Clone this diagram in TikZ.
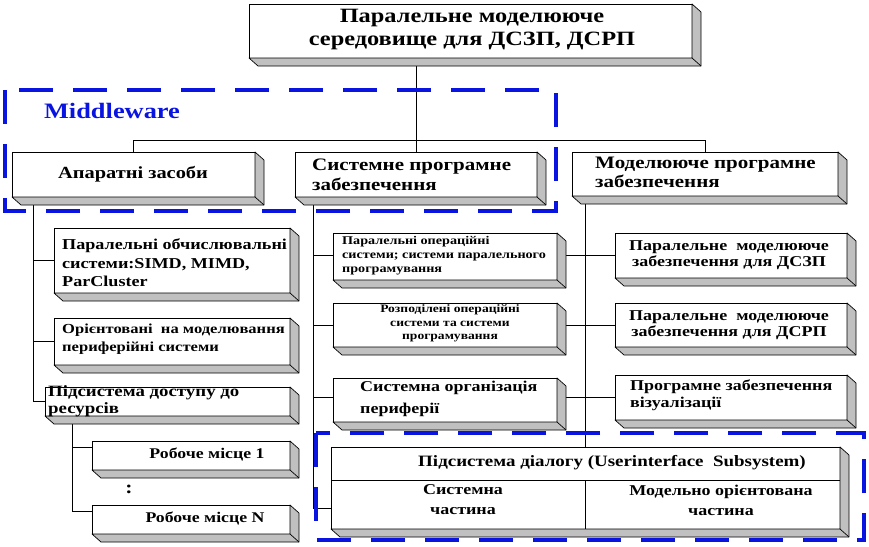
\documentclass[tikz,border=0pt]{standalone}
\usepackage{fontspec}
\setmainfont{Liberation Serif}[FakeStretch=1.2]
\definecolor{mwblue}{RGB}{10,20,225}
\definecolor{depthgray}{RGB}{192,192,192}
\newcommand\fs[2]{\fontsize{#1}{#2}\selectfont\bfseries}
\newcommand\depthof[1]{%
  \filldraw[depthface] (#1.north east) -- ++(9,8) -- ([shift={(9,8)}]#1.south east)
    -- ([shift={(9,8)}]#1.south west) -- (#1.south west) -- (#1.south east) -- cycle;
  \draw[depthface] (#1.south east) -- ++(9,8);}
% \mkbox{name}{x1}{y1}{x2}{y2}
\newcommand\mkbox[5]{%
  \node[box, minimum width={#4-#2}, minimum height={#5-#3}] (#1) at ({(#2+#4)/2},{(#3+#5)/2}) {};
  \depthof{#1}}
\begin{document}
\begin{tikzpicture}[x=1pt,y=-1pt,
  box/.style={draw, fill=white, line width=0.8pt, inner sep=0pt, outer sep=0pt},
  depthface/.style={fill=depthgray, draw=black, line width=0.7pt, line join=round},
  conn/.style={draw, line width=0.8pt},
  mwframe/.style={draw=mwblue, line width=4pt, dash pattern=on 34pt off 20pt},
  lbl/.style={inner sep=0pt, align=center},
  lft/.style={inner sep=0pt, align=left, anchor=west}]
\useasboundingbox (0,0) rectangle (869,546);
\pgfdeclarelayer{bg}\pgfsetlayers{bg,main}
% helper coordinates
\coordinate (bus) at (0,140);
\coordinate (lv) at (33,0);
\coordinate (sv) at (72,0);
\coordinate (mv) at (313,0);
\coordinate (rv) at (585,0);
% Top box
\mkbox{top}{249}{4}{692}{58}
\node[lbl, font=\fs{20.3}{23}] (topt) at (472,30) {Паралельне моделююче\\середовище для ДСЗП, ДСРП};
% Level 2
\mkbox{A}{12}{152}{255}{197}
\node[lbl, font=\fs{17}{20}] (At) at (133,174.5) {Апаратні засоби};
\mkbox{S}{295}{152}{537}{197}
\node[lft, font=\fs{17.5}{20}] (St) at (312,175) {Системне програмне\\забезпечення};
\mkbox{M}{572}{152}{838}{196}
\node[lft, font=\fs{17.5}{19}] (Mt) at (595,172.5) {Моделююче програмне\\забезпечення};
% Left column
\mkbox{L1}{54}{228}{290}{293}
\node[lft, font=\fs{15.1}{18.5}] (L1t) at (62,263) {Паралельні обчислювальні\\системи:SIMD, MIMD,\\ParCluster};
\mkbox{L2}{54}{318}{290}{365}
\node[lft, font=\fs{13.8}{18}] (L2t) at (62,339.5) {Орієнтовані\ \ на моделювання\\периферійні системи};
\mkbox{L3}{45}{387}{290}{416}
\node[lft, font=\fs{15.7}{17}] (L3t) at (48,401.5) {Підсистема доступу до\\ресурсів};
\mkbox{W1}{92}{441}{290}{470}
\node[lbl, font=\fs{14.8}{16}] (W1t) at (207,454) {Робоче місце 1};
\mkbox{W2}{92}{505}{290}{534}
\node[lbl, font=\fs{14.8}{16}] (W2t) at (205,518.5) {Робоче місце N};
\node[lbl, font=\fs{18}{18}] (dots) at (129,489) {:};
% Middle column
\mkbox{M1}{333}{233}{557}{280}
\node[lft, font=\fs{11.8}{14}] (M1t) at (342,256) {Паралельні операційні\\системи; системи паралельного\\програмування};
\mkbox{M2}{333}{303}{557}{347}
\node[lbl, font=\fs{11.3}{13.5}] (M2t) at (450,323.5) {Розподілені операційні\\системи та системи\\програмування};
\mkbox{M3}{333}{378}{557}{422}
\node[lft, font=\fs{15}{22}] (M3t) at (360,399) {Системна організація\\периферії};
% Right column
\mkbox{R1}{615}{233}{847}{278}
\node[lbl, font=\fs{15}{16.5}] (R1t) at (729,255) {Паралельне\ \ моделююче\\забезпечення для ДСЗП};
\mkbox{R2}{615}{303}{847}{347}
\node[lbl, font=\fs{15}{16.5}] (R2t) at (729,325) {Паралельне\ \ моделююче\\забезпечення для ДСРП};
\mkbox{R3}{615}{375}{847}{420}
\node[lft, font=\fs{15}{16.5}] (R3t) at (630,395) {Програмне забезпечення\\візуалізації};
% Dialog box
\mkbox{D}{331}{447}{840}{529}
\coordinate (dmid) at (0,480);
\draw[conn] (D.west |- dmid) -- (D.east |- dmid);
\draw[conn] (dmid -| rv) -- (D.south -| rv);
\node[lbl, font=\fs{15.8}{16}] (dtitle) at (612,463) {Підсистема діалогу (Userinterface\ \ Subsystem)};
\node[lbl, font=\fs{15}{20}] (dsys) at (463,500) {Системна\\частина};
\node[lbl, font=\fs{15}{20}] (dmod) at (721,500) {Модельно орієнтована\\частина};
\coordinate (dlink) at (0,508);
% connectors on background layer
\begin{pgfonlayer}{bg}
\draw[conn] (top.south -| S.north) -- (S.north);
\draw[conn] (A.north) -- (A.north |- bus) -- (M.north |- bus) -- (M.north);
\draw[conn] (A.south -| lv) -- (L3.west -| lv) -- (L3.west);
\draw[conn] (L1.west -| lv) -- (L1.west);
\draw[conn] (L2.west -| lv) -- (L2.west);
\draw[conn] (L3.south -| sv) -- ([yshift=8pt]W2.west -| sv) -- ([yshift=8pt]W2.west);
\draw[conn] ([yshift=8pt]W1.west -| sv) -- ([yshift=8pt]W1.west);
\draw[conn] (S.south -| mv) -- (dlink -| mv) -- (dlink -| D.west);
\draw[conn] (R1.west -| mv) -- (R1.west);
\draw[conn] (R2.west -| mv) -- (R2.west);
\draw[conn] (R3.west -| mv) -- (R3.west);
\draw[conn] (M.south -| rv) -- (D.north -| rv);
\end{pgfonlayer}
% Dashed frames
\draw[mwframe] (5,90) rectangle (556,211);
\node[lbl, text=mwblue, font=\fs{22}{22}] (mw) at (112,111) {Middleware};
\draw[mwframe] (316,433) rectangle (864,540);
\end{tikzpicture}
\end{document}
